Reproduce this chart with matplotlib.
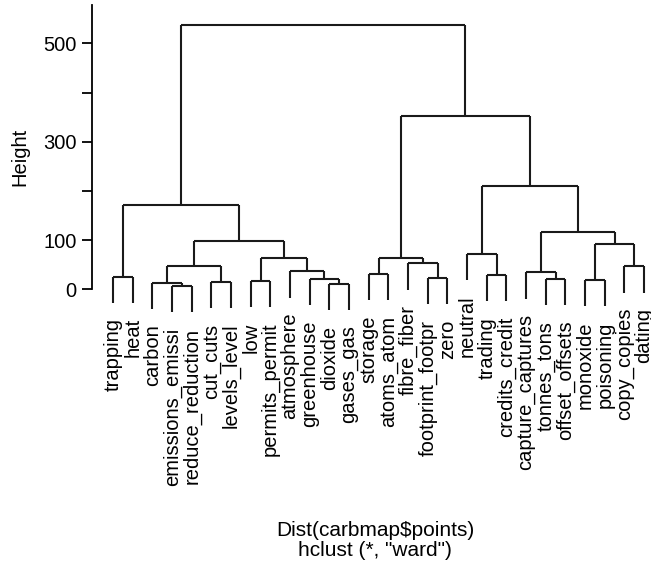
import matplotlib
matplotlib.use("Agg")
import matplotlib.pyplot as plt

plt.rcParams["font.family"] = ["Liberation Sans", "DejaVu Sans"]

# leaf labels in plotting order
labels = ["trapping", "heat", "carbon", "emissions_emissi", "reduce_reduction",
          "cut_cuts", "levels_level", "low", "permits_permit", "atmosphere",
          "greenhouse", "dioxide", "gases_gas", "storage", "atoms_atom",
          "fibre_fiber", "footprint_footpr", "zero", "neutral", "trading",
          "credits_credit", "capture_captures", "tonnes_tons", "offset_offsets",
          "monoxide", "poisoning", "copy_copies", "dating"]

# hclust-style merge table: negative = leaf (1-based), positive = earlier step
merge_a = [-4, -12, -3, -6, -8, -25, -23, -11, -17, -1, -20, -14, -22, -10,
           3, -27, -16, 5, 12, -19, 6, 15, 13, 10, 20, 19, 24]
merge_b = [-5, -13, 1, -7, -9, -26, -24, 2, -18, -2, -21, -15, 7, 8,
           4, -28, 9, 14, 17, 11, 16, 18, 21, 22, 23, 25, 26]
heights = [7, 11, 13, 15, 17, 19, 21, 21, 23, 26, 29, 31, 35, 37,
           47, 47, 53, 63, 63, 72, 92, 98, 116, 171, 210, 353, 537]

hang = 0.1 * max(heights)

fig = plt.figure(figsize=(6.51, 5.73), dpi=100)
ax = fig.add_axes([0.1413, 0.4415, 0.8587, 0.5497])

line_kw = dict(color="#1a1a1a", lw=1.5, solid_capstyle="butt")


def node_pos(ref, centers):
    # x and top-y of a child node
    if ref < 0:
        return ref * -1, None
    return centers[ref - 1], heights[ref - 1]


centers = []
for a, b, h in zip(merge_a, merge_b, heights):
    xs = []
    for ref in (a, b):
        x, y = node_pos(ref, centers)
        if y is None:
            # leaf: hang below the merge
            y = h - hang
            ax.annotate(labels[x - 1], (x, y), xytext=(0, -11),
                        textcoords="offset points", rotation=90,
                        ha="center", va="top", fontsize=14.5,
                        annotation_clip=False)
        ax.plot([x, x], [y, h], **line_kw)
        xs.append(x)
    ax.plot(xs, [h, h], **line_kw)
    centers.append((xs[0] + xs[1]) / 2)

ax.set_xlim(-0.07, 28.35)
ax.set_ylim(-62.4, 578)
for s in ["top", "right", "bottom"]:
    ax.spines[s].set_visible(False)
ax.spines["left"].set_bounds(0, 578)
ax.spines["left"].set_linewidth(1.3)
ax.set_xticks([])
ax.set_yticks([0, 100, 200, 300, 400, 500])
ax.set_yticklabels(["0", "100", "", "300", "", "500"])
ax.tick_params(axis="y", length=7, width=1.3, labelsize=14.5, pad=4)

fig.text(0.031, 0.726, "Height", rotation=90, ha="center", va="center", fontsize=14.5)
fig.text(0.576, 0.074, "Dist(carbmap$points)", ha="center", va="center", fontsize=15)
fig.text(0.576, 0.040, 'hclust (*, "ward")', ha="center", va="center", fontsize=15)

fig.savefig("out.png", dpi=100)
